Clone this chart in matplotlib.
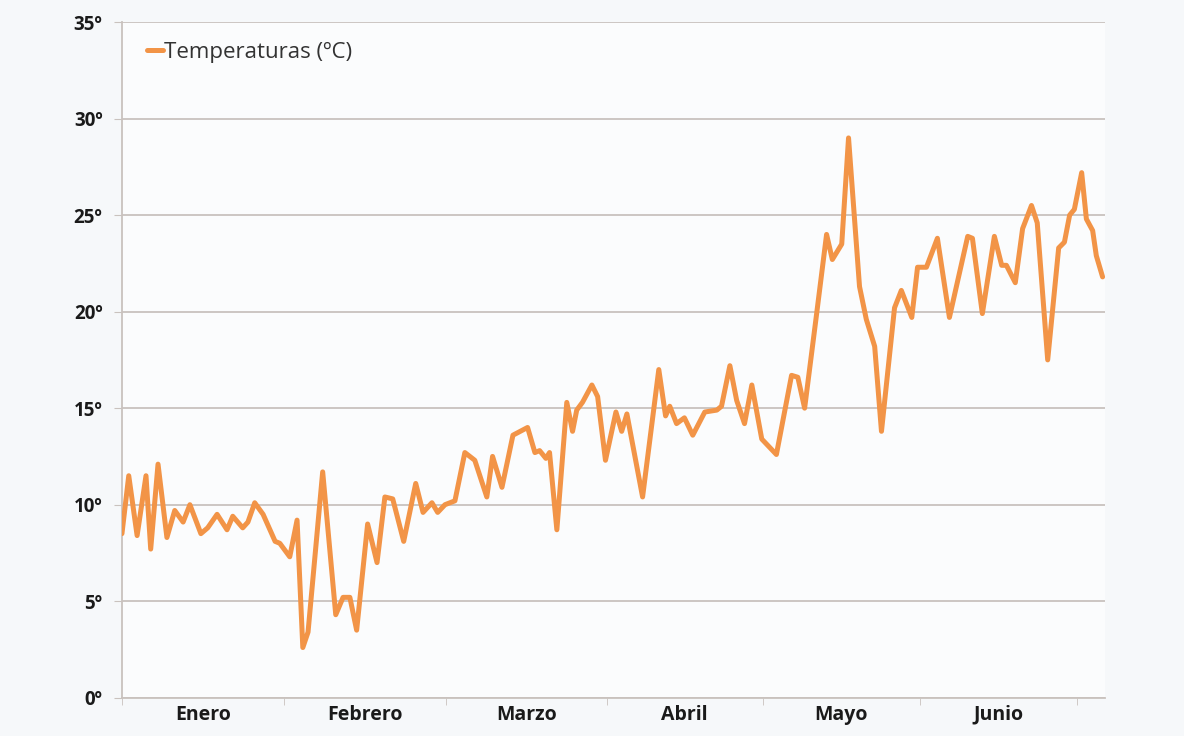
import matplotlib.pyplot as plt
import numpy as np

plt.rcParams['font.family'] = ['Open Sans', 'DejaVu Sans']

# dia (indice en el eje) y temperatura
dias = [0, 1.3, 2.9, 4.6, 5.5, 6.9, 8.6, 10.1, 11.7, 13.0, 15.1, 16.4, 18.2, 20.1,
        21.2, 23.1, 24.1, 25.4, 27.0, 29.3, 30.2, 32.1, 33.5, 34.6, 35.6, 38.4,
        40.9, 42.3, 43.6, 44.9, 47.0, 48.8, 50.3, 51.8, 53.9, 56.2, 57.6, 59.3,
        60.4, 61.8, 63.7, 65.6, 67.5, 69.8, 70.9, 72.7, 74.8, 77.6, 79.0, 79.9,
        81.1, 81.8, 83.2, 85.1, 86.2, 87.0, 88.1, 89.9, 91.0, 92.5, 94.5, 95.6,
        96.6, 99.6, 102.7, 104.0, 104.8, 106.1, 107.6, 109.2, 111.5, 113.8,
        114.7, 116.3, 117.6, 119.1, 120.5, 122.4, 125.2, 128.1, 129.3, 130.6,
        132.9, 134.8, 135.9, 137.7, 139.0, 141.1, 142.4, 144.0, 145.3, 147.8,
        149.1, 151.1, 152.2, 153.9, 156.0, 158.3, 161.8, 162.7, 164.6, 166.9,
        168.3, 169.2, 170.9, 172.3, 174.0, 175.1, 177.1, 179.2, 180.3, 181.3,
        182.2, 183.6, 184.5, 185.7, 186.4, 187.6]
temps = [8.5, 11.5, 8.4, 11.5, 7.7, 12.1, 8.3, 9.7, 9.1, 10.0, 8.5, 8.8, 9.5, 8.7,
         9.4, 8.8, 9.1, 10.1, 9.5, 8.1, 8.0, 7.3, 9.2, 2.6, 3.4, 11.7,
         4.3, 5.2, 5.2, 3.5, 9.0, 7.0, 10.4, 10.3, 8.1, 11.1, 9.6, 10.1,
         9.6, 10.0, 10.2, 12.7, 12.3, 10.4, 12.5, 10.9, 13.6, 14.0, 12.7, 12.8,
         12.4, 12.7, 8.7, 15.3, 13.8, 14.9, 15.3, 16.2, 15.6, 12.3, 14.8, 13.8,
         14.7, 10.4, 17.0, 14.6, 15.1, 14.2, 14.5, 13.6, 14.8, 14.9,
         15.1, 17.2, 15.4, 14.2, 16.2, 13.4, 12.6, 16.7, 16.6, 15.0,
         19.9, 24.0, 22.7, 23.5, 29.0, 21.3, 19.6, 18.2, 13.8, 20.2,
         21.1, 19.7, 22.3, 22.3, 23.8, 19.7, 23.9, 23.8, 19.9, 23.9,
         22.4, 22.4, 21.5, 24.3, 25.5, 24.6, 17.5, 23.3, 23.6, 25.0,
         25.3, 27.2, 24.8, 24.2, 22.9, 21.8]

meses = ['Enero', 'Febrero', 'Marzo', 'Abril', 'Mayo', 'Junio']
limites_mes = [0, 31, 62, 92.7, 122.6, 152.6, 182.8]
y_ticks = [0, 5, 10, 15, 20, 25, 30, 35]

fig = plt.figure(figsize=(11.84, 7.36), dpi=100)
fig.patch.set_facecolor('#f6f8fa')
ax = fig.add_axes([0.103, 0.052, 0.830, 0.918])
ax.set_facecolor('#fbfcfd')

ax.plot(dias, temps, color='#f29447', lw=3.6, solid_joinstyle='round',
        solid_capstyle='round', label='Temperaturas (ºC)', zorder=3)

ax.set_xlim(0, 188)
ax.set_ylim(0, 35)
ax.set_yticks(y_ticks)
ax.set_yticklabels(['%dº' % v for v in y_ticks], fontsize=13.5, fontweight='bold', color='#1a1a1a')
ax.yaxis.grid(True, color='#c9c2be', lw=1.3)
ax.set_axisbelow(True)

centros = [(limites_mes[i] + limites_mes[i + 1]) / 2 for i in range(len(meses))]
ax.set_xticks(centros)
ax.set_xticklabels(meses, fontsize=14, fontweight='bold', color='#1a1a1a')
ax.tick_params(axis='x', length=0, pad=5)
ax.set_xticks(limites_mes, minor=True)
ax.tick_params(axis='x', which='minor', length=5, color='#c9c2be', direction='out')
ax.tick_params(axis='y', length=6, color='#c9c2be', pad=8)

for s in ['top', 'right']:
    ax.spines[s].set_visible(False)
for s in ['left', 'bottom']:
    ax.spines[s].set_color('#c9c2be')
    ax.spines[s].set_linewidth(1.3)

leg = ax.legend(loc='center left', frameon=False, fontsize=16, handlelength=0.75,
                handletextpad=0.05, borderaxespad=0, borderpad=0,
                bbox_to_anchor=(0.025, 0.955))
for t in leg.get_texts():
    t.set_color('#333333')

fig.savefig('out.png', dpi=100, facecolor=fig.get_facecolor())
